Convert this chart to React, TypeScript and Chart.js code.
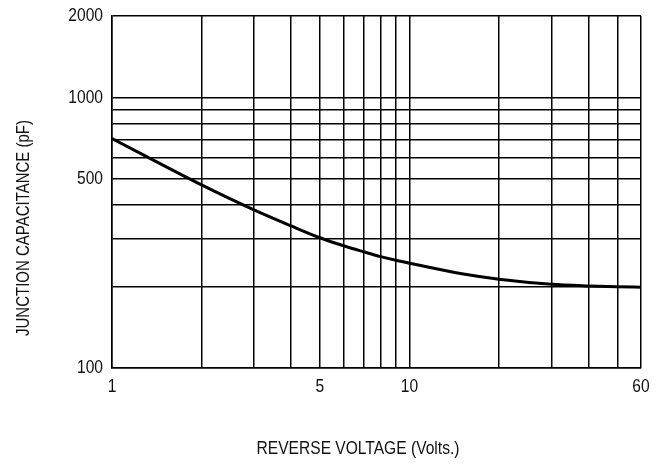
import React, { useEffect, useRef } from "react";
import { Chart, registerables } from "chart.js";

Chart.register(...registerables);

const voltage = [1, 2, 3, 4, 5, 6, 7, 8, 9, 10, 15, 20, 30, 40, 50, 60];
const capacitance = [705, 475, 384, 335, 303, 283, 269, 258, 250, 244, 223, 213, 204, 201, 199.5, 199];

const xGridValues = [1, 2, 3, 4, 5, 6, 7, 8, 9, 10, 20, 30, 40, 50, 60];
const xTickLabels = [1, 5, 10, 60];
const yGridValues = [100, 200, 300, 400, 500, 600, 700, 800, 900, 1000, 2000];
const yTickLabels = [100, 500, 1000, 2000];

const xTitle = "REVERSE VOLTAGE (Volts.)";
const yTitle = "JUNCTION CAPACITANCE (pF)";

const FONT = "'Liberation Sans', Arial, sans-serif";
const NARROW = 0.82;

function narrowText(ctx: CanvasRenderingContext2D, text: string, x: number, y: number, rotate = 0) {
  ctx.save();
  ctx.translate(x, y);
  if (rotate) ctx.rotate(rotate);
  ctx.scale(NARROW, 1);
  ctx.fillText(text, 0, 0);
  ctx.restore();
}

export default function App() {
  const ref = useRef<HTMLCanvasElement | null>(null);

  useEffect(() => {
    document.body.style.margin = "0";
    const canvas = ref.current;
    if (!canvas) return;

    const labelsPlugin = {
      id: "narrowLabels",
      afterDraw(chart: any) {
        const { ctx, chartArea, scales } = chart;
        ctx.save();
        ctx.fillStyle = "#111";
        // tick labels
        ctx.font = `19px ${FONT}`;
        ctx.textBaseline = "middle";
        ctx.textAlign = "right";
        yTickLabels.forEach((v) => {
          narrowText(ctx, String(v), chartArea.left - 9, scales.y.getPixelForValue(v));
        });
        ctx.textAlign = "center";
        xTickLabels.forEach((v) => {
          narrowText(ctx, String(v), scales.x.getPixelForValue(v), chartArea.bottom + 19);
        });
        // axis titles
        ctx.font = `19px ${FONT}`;
        narrowText(ctx, xTitle, 358, 449);
        ctx.font = `18.3px ${FONT}`;
        narrowText(ctx, yTitle, 24, 228, -Math.PI / 2);
        ctx.restore();
      },
    };

    const chart = new Chart(canvas, {
      type: "line",
      data: {
        datasets: [
          {
            data: voltage.map((v, i) => ({ x: v, y: capacitance[i] })),
            borderColor: "#000",
            borderWidth: 3,
            pointRadius: 0,
            cubicInterpolationMode: "monotone",
            fill: false,
          },
        ],
      },
      options: {
        animation: false,
        responsive: false,
        maintainAspectRatio: false,
        layout: { padding: { top: 16, right: 27, left: 0, bottom: 0 } },
        plugins: { legend: { display: false }, tooltip: { enabled: false } },
        scales: {
          x: {
            type: "logarithmic",
            min: 1,
            max: 60,
            afterBuildTicks: (scale: any) => {
              scale.ticks = xGridValues.map((v) => ({ value: v }));
            },
            afterFit: (scale: any) => {
              scale.height = 98;
            },
            border: { display: true, color: "#000", width: 1.5 },
            grid: { color: "#000", lineWidth: 1.5, drawTicks: false },
            ticks: { display: false, autoSkip: false },
          },
          y: {
            type: "logarithmic",
            min: 100,
            max: 2000,
            afterBuildTicks: (scale: any) => {
              scale.ticks = yGridValues.map((v) => ({ value: v }));
            },
            afterFit: (scale: any) => {
              scale.width = 112;
            },
            border: { display: true, color: "#000", width: 1.5 },
            grid: { color: "#000", lineWidth: 1.5, drawTicks: false },
            ticks: { display: false, autoSkip: false },
          },
        },
      },
      plugins: [labelsPlugin],
    } as any);

    return () => chart.destroy();
  }, []);

  return (
    <div style={{ width: 668, height: 466, background: "#fff" }}>
      <canvas ref={ref} width={668} height={466} style={{ display: "block" }} />
    </div>
  );
}
